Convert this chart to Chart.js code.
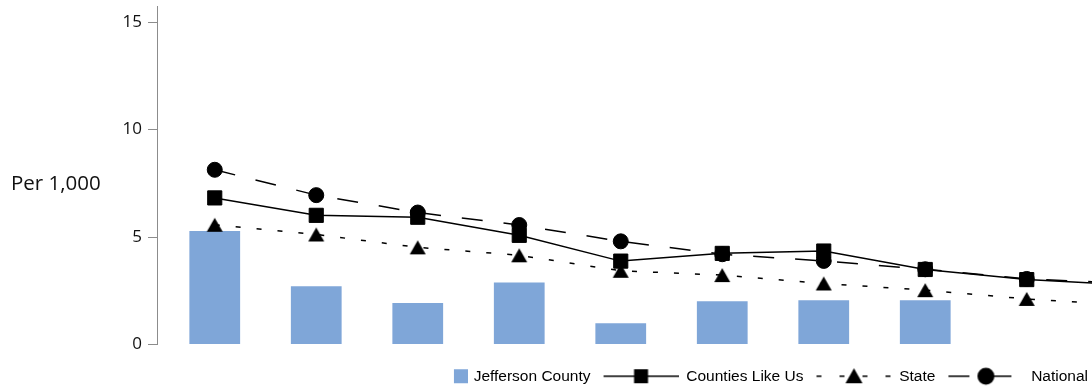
<!DOCTYPE html>
<html>
<head>
<meta charset="utf-8">
<script src="https://cdn.jsdelivr.net/npm/chart.js@4.4.0/dist/chart.umd.min.js"></script>
<style>
  html, body { margin: 0; padding: 0; background: #fff; overflow: hidden; }
  #wrap { position: relative; width: 1092px; height: 386px; }
</style>
</head>
<body>
<div id="wrap"><canvas id="chart"></canvas></div>
<script>
// The picture shows no category labels, so these are just positions
const categories = ['1', '2', '3', '4', '5', '6', '7', '8', '9', '10'];
const jefferson = [5.28, 2.71, 1.93, 2.89, 0.99, 2.01, 2.06, 2.06, null, null];
const countiesLikeUs = [6.82, 6.01, 5.92, 5.08, 3.88, 4.24, 4.35, 3.49, 3.02, 2.78];
const state = [5.57, 5.12, 4.52, 4.15, 3.43, 3.23, 2.84, 2.53, 2.12, 1.83];
const national = [8.13, 6.95, 6.14, 5.56, 4.80, 4.20, 3.89, 3.50, 3.05, 2.85];
const seriesNames = ['Jefferson County', 'Counties Like Us', 'State', 'National'];
const yTicks = [0, 5, 10, 15];
const yTitle = 'Per 1,000';

const barColor = '#7fa6d8';
const axisGray = '#8c8c8c';

// Small canvases used as legend swatches (line sample with marker in the middle)
function lineSwatch(dash, marker) {
    const c = document.createElement('canvas');
    c.width = 84; c.height = 20;
    const g = c.getContext('2d');
    g.strokeStyle = '#000';
    g.fillStyle = '#000';
    g.lineWidth = 1.5;
    g.setLineDash(dash);
    g.beginPath();
    g.moveTo(9, 10);
    g.lineTo(84, 10);
    g.stroke();
    g.setLineDash([]);
    const cx = 46.5, cy = 10;
    g.beginPath();
    if (marker === 'rect') {
        g.rect(cx - 7, cy - 7, 14, 14);
    } else if (marker === 'triangle') {
        g.moveTo(cx, cy - 8);
        g.lineTo(cx + 8.5, cy + 7);
        g.lineTo(cx - 8.5, cy + 7);
        g.closePath();
    } else {
        g.arc(cx, cy, 8.5, 0, Math.PI * 2);
    }
    g.fill();
    return c;
}

function boxSwatch() {
    const c = document.createElement('canvas');
    c.width = 88; c.height = 20;
    const g = c.getContext('2d');
    g.fillStyle = barColor;
    g.fillRect(74, 3, 14, 14);
    return c;
}

// triangle marker centred on its bounding box, like the original
function triangleMarker() {
    const c = document.createElement('canvas');
    c.width = 18; c.height = 16;
    const g = c.getContext('2d');
    g.fillStyle = '#000';
    g.beginPath();
    g.moveTo(9, 1);
    g.lineTo(17, 15);
    g.lineTo(1, 15);
    g.closePath();
    g.fill();
    return c;
}

const swatches = [
    boxSwatch(),
    lineSwatch([], 'rect'),
    lineSwatch([5, 18], 'triangle'),
    lineSwatch([21, 21], 'circle')
];

const layoutTweaks = {
    id: 'layoutTweaks',
    afterLayout(chart) {
        // the category axis starts a little right of the value axis, and runs past the right edge
        const x = chart.scales.x;
        x.left = chart.chartArea.left + 7;
        x.right = x.left + 101.5 * categories.length;
        x.configure();
    },
    afterDraw(chart) {
        const ctx = chart.ctx;
        ctx.save();
        ctx.font = '20.5px "Open Sans"';
        ctx.fillStyle = '#111';
        ctx.textBaseline = 'middle';
        ctx.textAlign = 'left';
        ctx.fillText(yTitle, 11, 184);
        ctx.restore();
    }
};

const lineBase = {
    type: 'line',
    borderColor: '#000',
    borderWidth: 1.5,
    pointBackgroundColor: '#000',
    pointBorderColor: '#000',
    pointBorderWidth: 1,
    tension: 0,
    fill: false,
    order: 1
};

new Chart(document.getElementById('chart'), {
    data: {
        labels: categories,
        datasets: [
            {
                type: 'bar',
                label: seriesNames[0],
                data: jefferson,
                backgroundColor: barColor,
                categoryPercentage: 1,
                barPercentage: 0.5,
                order: 2
            },
            Object.assign({}, lineBase, {
                label: seriesNames[1],
                data: countiesLikeUs,
                pointStyle: 'rect',
                pointRadius: 10
            }),
            Object.assign({}, lineBase, {
                label: seriesNames[2],
                data: state,
                borderDash: [5, 16],
                pointStyle: triangleMarker(),
                pointRadius: 9
            }),
            Object.assign({}, lineBase, {
                label: seriesNames[3],
                data: national,
                borderDash: [21, 21],
                pointStyle: 'circle',
                pointRadius: 7.5
            })
        ]
    },
    options: {
        responsive: true,
        maintainAspectRatio: false,
        animation: false,
        layout: { autoPadding: false, padding: { top: 6, left: 0, right: 0, bottom: -8 } },
        plugins: {
            tooltip: { enabled: false },
            legend: {
                position: 'bottom',
                align: 'end',
                labels: {
                    usePointStyle: true,
                    pointStyleWidth: 84,
                    boxHeight: 16,
                    padding: 4,
                    color: '#111',
                    font: { family: 'Liberation Sans', size: 15.5 },
                    generateLabels(chart) {
                        return seriesNames.map((name, i) => ({
                            text: name,
                            pointStyle: swatches[i],
                            fillStyle: '#000',
                            strokeStyle: '#000',
                            lineWidth: 0,
                            hidden: !chart.isDatasetVisible(i),
                            datasetIndex: i
                        }));
                    }
                }
            }
        },
        scales: {
            x: {
                offset: true,
                grid: { display: false },
                border: { display: false },
                ticks: { display: false },
                afterFit: s => { s.height = 20; }
            },
            y: {
                min: 0,
                max: 15.75,
                afterBuildTicks: s => { s.ticks = yTicks.map(v => ({ value: v })); },
                afterFit: s => { s.width = 157; s.paddingTop = 0; s.paddingBottom = 0; },
                border: { display: true, color: axisGray, width: 1 },
                grid: { drawOnChartArea: false, drawTicks: true, tickLength: 9, color: axisGray },
                ticks: { color: '#111', padding: 6, font: { family: 'Open Sans', size: 17 } }
            }
        }
    },
    plugins: [layoutTweaks]
});
</script>
</body>
</html>
